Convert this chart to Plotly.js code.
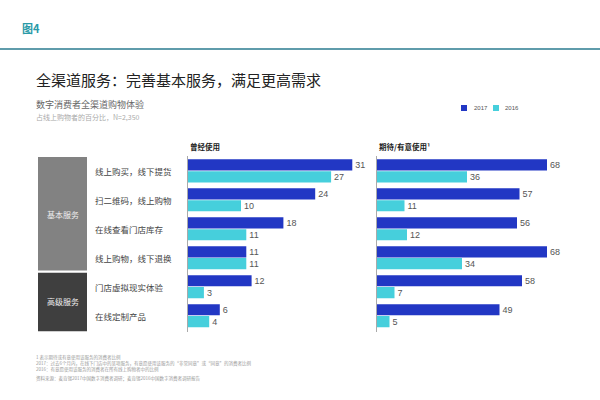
<!DOCTYPE html>
<html>
<head>
<meta charset="utf-8">
<script src="https://cdn.plot.ly/plotly-3.0.1.min.js"></script>
<style>html,body{margin:0;padding:0;background:#fff;}#chart{width:600px;height:400px;}</style>
</head>
<body>
<div id="chart"></div>
<script>
const categories = ["线上购买，线下提货", "扫二维码，线上购物", "在线查看门店库存", "线上购物，线下退换", "门店虚拟现实体验", "在线定制产品"];
const everUsed2017 = [31, 24, 18, 11, 12, 6];
const everUsed2016 = [27, 10, 11, 11, 3, 4];
const expect2017 = [68, 57, 56, 68, 58, 49];
const expect2016 = [36, 11, 12, 34, 7, 5];
const seriesNames = ["2017", "2016"];
const groupNames = ["基本服务", "高级服务"];
const panelTitles = ["曾经使用", "期待/有意使用¹"];

const NAVY = "#2237c4";
const CYAN = "#46cfdc";
const FONT = "Noto Sans CJK SC, Noto Sans, sans-serif";

function barTrace(x, name, color, xa, ya) {
  return {
    type: "bar", orientation: "h", y: categories, x: x, name: name,
    xaxis: xa, yaxis: ya,
    marker: {color: color},
    text: x.map(String), textposition: "outside", cliponaxis: false,
    textfont: {family: "Liberation Sans, Arial, sans-serif", size: 9, color: "#555"},
    showlegend: false, hoverinfo: "skip"
  };
}

const data = [
  barTrace(everUsed2017, seriesNames[0], NAVY, "x", "y"),
  barTrace(everUsed2016, seriesNames[1], CYAN, "x", "y"),
  barTrace(expect2017, seriesNames[0], NAVY, "x2", "y2"),
  barTrace(expect2016, seriesNames[1], CYAN, "x2", "y2")
];

const annotations = [
  {text: "<b>图4</b>", x: 20/600, y: 1-28/400, xref: "paper", yref: "paper", xanchor: "left", yanchor: "middle", showarrow: false, font: {family: FONT, size: 11, color: "#2a9aa8"}},
  {text: "全渠道服务：完善基本服务，满足更高需求", x: 34/600, y: 1-80/400, xref: "paper", yref: "paper", xanchor: "left", yanchor: "middle", showarrow: false, font: {family: FONT, size: 15, color: "#222"}},
  {text: "数字消费者全渠道购物体验", x: 34/600, y: 1-104/400, xref: "paper", yref: "paper", xanchor: "left", yanchor: "middle", showarrow: false, font: {family: FONT, size: 9, color: "#666"}},
  {text: "占线上购物者的百分比，N=2,350", x: 34/600, y: 1-117/400, xref: "paper", yref: "paper", xanchor: "left", yanchor: "middle", showarrow: false, font: {family: FONT, size: 7, color: "#aaa"}},
  {text: "<b>" + panelTitles[0] + "</b>", x: 188/600, y: 1-146/400, xref: "paper", yref: "paper", xanchor: "left", yanchor: "middle", showarrow: false, font: {family: FONT, size: 7.5, color: "#222"}},
  {text: "<b>" + panelTitles[1] + "</b>", x: 377/600, y: 1-146/400, xref: "paper", yref: "paper", xanchor: "left", yanchor: "middle", showarrow: false, font: {family: FONT, size: 7.5, color: "#222"}},
  {text: seriesNames[0], x: 472/600, y: 1-108/400, xref: "paper", yref: "paper", xanchor: "left", yanchor: "middle", showarrow: false, font: {family: "Liberation Sans, Arial", size: 6, color: "#555"}},
  {text: seriesNames[1], x: 503/600, y: 1-108/400, xref: "paper", yref: "paper", xanchor: "left", yanchor: "middle", showarrow: false, font: {family: "Liberation Sans, Arial", size: 6, color: "#555"}},
  {text: groupNames[0], x: 62.5/600, y: 1.5, xref: "paper", yref: "y", xanchor: "center", yanchor: "middle", showarrow: false, font: {family: FONT, size: 8, color: "#eee"}},
  {text: groupNames[1], x: 62.5/600, y: 4.5, xref: "paper", yref: "y", xanchor: "center", yanchor: "middle", showarrow: false, font: {family: FONT, size: 8, color: "#eee"}},
  {text: "1 表示期待或有意使用该服务的消费者比例", x: 34/600, y: 1-357/400, xref: "paper", yref: "paper", xanchor: "left", yanchor: "middle", showarrow: false, font: {family: FONT, size: 4.5, color: "#999"}},
  {text: "2017：过去6个月内，在线下门店中的某项服务，有意愿使用该服务的“非常同意”或“同意”的消费者比例", x: 34/600, y: 1-363/400, xref: "paper", yref: "paper", xanchor: "left", yanchor: "middle", showarrow: false, font: {family: FONT, size: 4.5, color: "#999"}},
  {text: "2016：有意愿使用该服务的消费者在所有线上购物者中的比例", x: 34/600, y: 1-369/400, xref: "paper", yref: "paper", xanchor: "left", yanchor: "middle", showarrow: false, font: {family: FONT, size: 4.5, color: "#999"}},
  {text: "资料来源：麦肯锡2017中国数字消费者调研；麦肯锡2016中国数字消费者调研报告", x: 34/600, y: 1-378/400, xref: "paper", yref: "paper", xanchor: "left", yanchor: "middle", showarrow: false, font: {family: FONT, size: 4.5, color: "#999"}}
];
categories.forEach(function(c) {
  annotations.push({text: c, x: 93/600, y: c, xref: "paper", yref: "y", xanchor: "left", yanchor: "middle", showarrow: false, font: {family: FONT, size: 8.5, color: "#444"}});
});

const shapes = [
  {type: "line", xref: "paper", yref: "paper", x0: 0, x1: 1, y0: 1-49/400, y1: 1-49/400, line: {color: "#5f9cab", width: 2}},
  {type: "rect", xref: "paper", yref: "y", x0: 38/600, x1: 87/600, y0: -0.48, y1: 3.44, fillcolor: "#828282", line: {width: 0}},
  {type: "rect", xref: "paper", yref: "y", x0: 38/600, x1: 87/600, y0: 3.52, y1: 5.55, fillcolor: "#3f3f3f", line: {width: 0}},
  {type: "rect", xref: "paper", yref: "paper", x0: 461/600, x1: 467/600, y0: 1-111/400, y1: 1-105/400, fillcolor: NAVY, line: {width: 0}},
  {type: "rect", xref: "paper", yref: "paper", x0: 493/600, x1: 499/600, y0: 1-111/400, y1: 1-105/400, fillcolor: CYAN, line: {width: 0}}
];

const yDomain = [1-331.6/400, 1-156.4/400];
const layout = {
  width: 600, height: 400,
  margin: {l: 0, r: 0, t: 0, b: 0},
  paper_bgcolor: "#fff", plot_bgcolor: "rgba(0,0,0,0)",
  barmode: "group", bargap: 0.18, bargroupgap: 0.06,
  showlegend: false,
  xaxis: {domain: [188/600, 360/600], range: [0, 172/5.3], visible: false, fixedrange: true},
  xaxis2: {domain: [377/600, 575/600], range: [0, 198/2.5], visible: false, fixedrange: true, anchor: "y2"},
  yaxis: {domain: yDomain, type: "category", categoryorder: "array", categoryarray: categories, autorange: "reversed",
          showticklabels: false, ticks: "", showgrid: false, zeroline: false, showline: true, linecolor: "#aaa", linewidth: 1, anchor: "x"},
  yaxis2: {domain: yDomain, type: "category", categoryorder: "array", categoryarray: categories, autorange: "reversed", matches: "y",
          showticklabels: false, ticks: "", showgrid: false, zeroline: false, showline: true, linecolor: "#aaa", linewidth: 1, anchor: "x2"},
  annotations: annotations,
  shapes: shapes
};

Plotly.newPlot("chart", data, layout, {staticPlot: true, displayModeBar: false});
</script>
</body>
</html>
